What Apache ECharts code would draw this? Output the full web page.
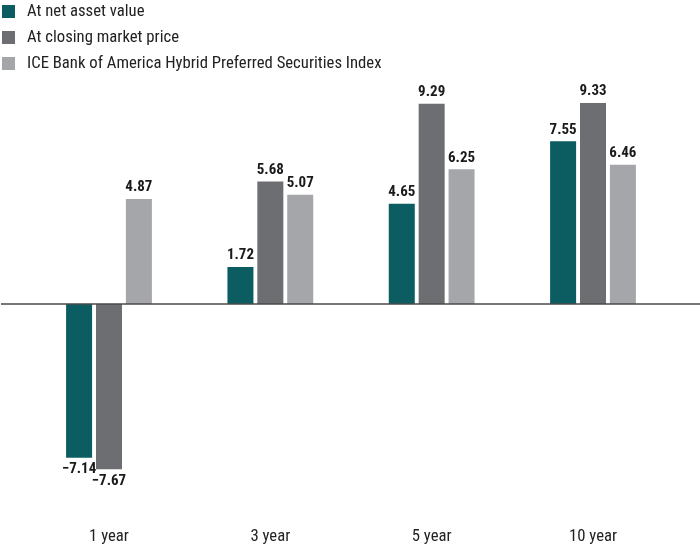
<!DOCTYPE html>
<html>
<head>
<meta charset="utf-8">
<script src="https://cdn.jsdelivr.net/npm/echarts@6/dist/echarts.min.js"></script>
<style>
html,body{margin:0;padding:0;background:#fff;}
#chart{width:700px;height:546px;}
</style>
</head>
<body>
<div id="chart"></div>
<script>
var categories = ['1 year', '3 year', '5 year', '10 year'];
var seriesNames = ['At net asset value', 'At closing market price', 'ICE Bank of America Hybrid Preferred Securities Index'];
var navValues = [-7.14, 1.72, 4.65, 7.55];
var marketValues = [-7.67, 5.68, 9.29, 9.33];
var indexValues = [4.87, 5.07, 6.25, 6.46];
var colors = ['#0b5d61', '#6d6e72', '#a5a6a9'];

var FONT = '"Roboto Condensed", "Liberation Sans Narrow", sans-serif';

var chart = echarts.init(document.getElementById('chart'), null, {renderer: 'canvas'});

function mkSeries(name, data, color) {
  return {
    name: name,
    type: 'bar',
    data: data.map(function (v) {
      return v < 0 ? {value: v, label: {position: 'bottom'}} : v;
    }),
    barWidth: 26,
    barGap: '15%',
    itemStyle: {color: color},
    label: {
      show: true,
      position: 'top',
      distance: 4,
      fontFamily: FONT,
      fontSize: 15,
      fontWeight: 'bold',
      color: '#1a1a1a',
      formatter: function (p) {
        return p.value < 0 ? '\u2212' + Math.abs(p.value).toFixed(2) : p.value.toFixed(2);
      }
    }
  };
}

var series = [
  mkSeries(seriesNames[0], navValues, colors[0]),
  mkSeries(seriesNames[1], marketValues, colors[1]),
  mkSeries(seriesNames[2], indexValues, colors[2])
];

chart.setOption({
  animation: false,
  textStyle: {fontFamily: FONT},
  legend: {
    orient: 'vertical',
    left: 2,
    top: 3,
    padding: 0,
    itemWidth: 13,
    itemHeight: 13,
    itemGap: 9,
    icon: 'rect',
    selectedMode: false,
    textStyle: {fontFamily: FONT, fontSize: 16.7, color: '#222', padding: [0, 0, 0, 7]},
    data: seriesNames
  },
  grid: {left: 28.33, right: 26.33, top: 88.5, bottom: 26.5, containLabel: false},
  xAxis: {
    type: 'category',
    data: categories,
    axisLine: {show: false},
    axisTick: {show: false},
    axisLabel: {fontFamily: FONT, fontSize: 16.7, color: '#222', margin: 9}
  },
  yAxis: {
    type: 'value',
    min: -10,
    max: 10,
    interval: 5,
    show: false,
    splitLine: {show: false}
  },
  series: series
});

var y0 = chart.convertToPixel({yAxisIndex: 0}, 0);
chart.setOption({
  graphic: [{
    type: 'line',
    z: 10,
    shape: {x1: 1, y1: y0, x2: 700, y2: y0},
    style: {stroke: '#4a4a4a', lineWidth: 1.5}
  }]
});
</script>
</body>
</html>
